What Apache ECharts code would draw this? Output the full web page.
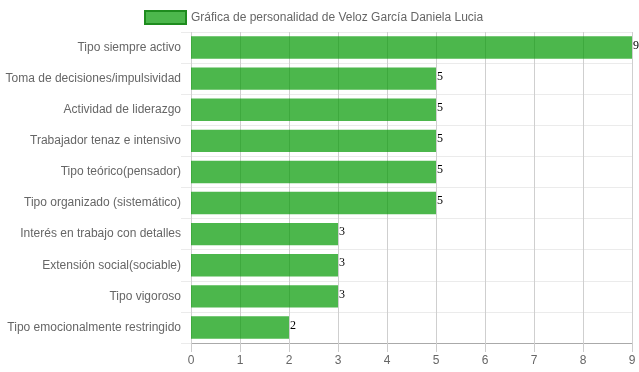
<!DOCTYPE html>
<html>
<head>
<meta charset="utf-8">
<script src="https://cdn.jsdelivr.net/npm/echarts@6/dist/echarts.min.js"></script>
<style>html,body{margin:0;padding:0;background:#fff;}#c{width:639px;height:372px;}</style>
</head>
<body>
<div id="c"></div>
<script>
var categories = [
  'Tipo siempre activo',
  'Toma de decisiones/impulsividad',
  'Actividad de liderazgo',
  'Trabajador tenaz e intensivo',
  'Tipo teórico(pensador)',
  'Tipo organizado (sistemático)',
  'Interés en trabajo con detalles',
  'Extensión social(sociable)',
  'Tipo vigoroso',
  'Tipo emocionalmente restringido'
];
var values = [9, 5, 5, 5, 5, 5, 3, 3, 3, 2];
var seriesName = 'Gráfica de personalidad de Veloz García Daniela Lucia';
var xTicks = { min: 0, max: 9, interval: 1 };

var chart = echarts.init(document.getElementById('c'), null, { renderer: 'canvas' });
chart.setOption({
  animation: false,
  textStyle: { fontFamily: 'Liberation Sans, Arial, sans-serif' },
  legend: {
    left: 144,
    top: 10,
    padding: 0,
    itemWidth: 41,
    itemHeight: 13,
    itemGap: 10,
    icon: 'rect',
    textStyle: { color: '#666', fontSize: 12, fontFamily: 'Liberation Sans, Arial, sans-serif' },
    itemStyle: { color: 'rgba(0,153,0,0.7)', borderColor: '#1e8c1e', borderWidth: 2 },
    data: [seriesName]
  },
  grid: { left: 191, right: 7, top: 32, bottom: 29, containLabel: false },
  xAxis: {
    type: 'value',
    min: xTicks.min,
    max: xTicks.max,
    interval: xTicks.interval,
    axisLine: { show: true, lineStyle: { color: '#aaa', width: 1 } },
    axisTick: { show: true, length: 9, lineStyle: { color: '#ccc' } },
    axisLabel: { color: '#666', fontSize: 12, margin: 12, fontFamily: 'Liberation Sans, Arial, sans-serif' },
    splitLine: { show: true, lineStyle: { color: '#cfcfcf', width: 1 } }
  },
  yAxis: {
    type: 'category',
    inverse: true,
    data: categories,
    axisLine: { show: false },
    axisTick: { show: true, length: 10, lineStyle: { color: '#ebebeb' } },
    axisLabel: { color: '#666', fontSize: 12, margin: 10, fontFamily: 'Liberation Sans, Arial, sans-serif' },
    splitLine: { show: true, lineStyle: { color: '#ebebeb', width: 1 } }
  },
  series: [{
    name: seriesName,
    type: 'bar',
    data: values,
    barCategoryGap: '28%',
    itemStyle: { color: 'rgba(0,153,0,0.7)' },
    label: {
      show: true,
      position: 'right',
      distance: 1,
      offset: [0, -2],
      color: '#000',
      fontSize: 12,
      fontFamily: 'Liberation Serif, Times New Roman, serif'
    }
  }]
});
</script>
</body>
</html>
